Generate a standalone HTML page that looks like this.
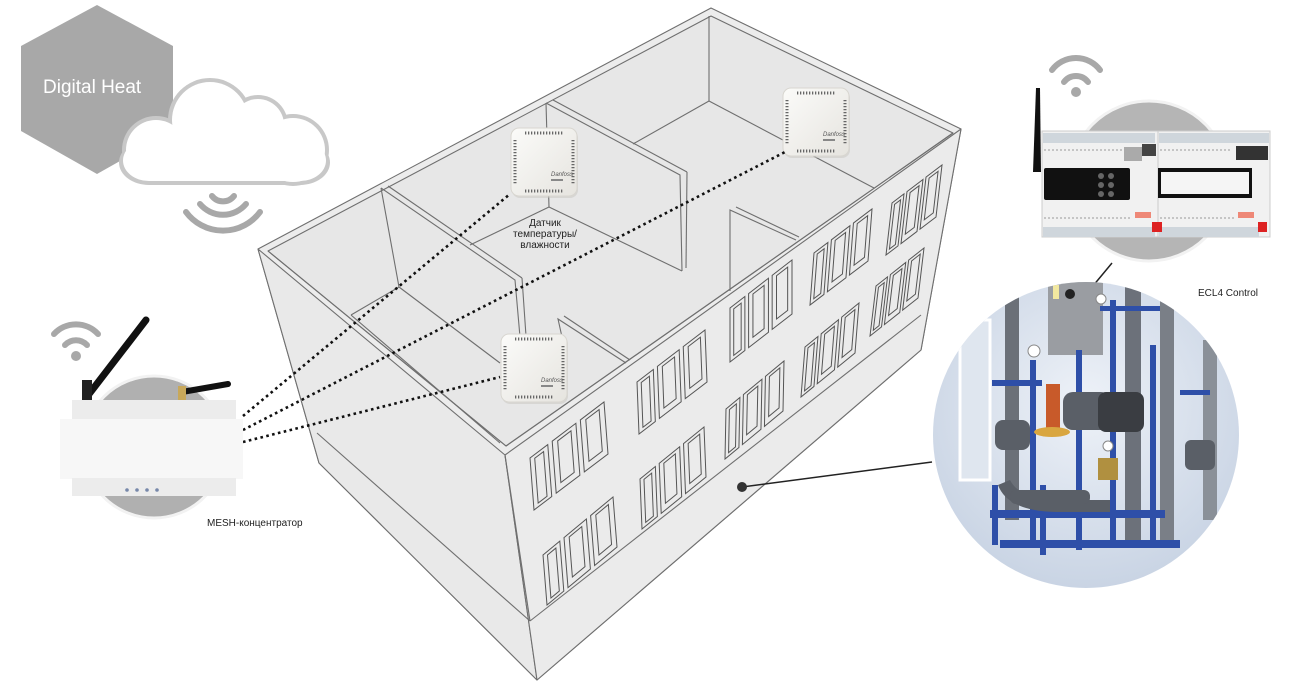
<!DOCTYPE html>
<html><head><meta charset="utf-8"><style>
html,body{margin:0;padding:0;background:#fff;width:1299px;height:686px;overflow:hidden}
svg{display:block}
text{font-family:"Liberation Sans",sans-serif}
</style></head><body>
<svg width="1299" height="686" viewBox="0 0 1299 686" xmlns="http://www.w3.org/2000/svg">
<defs>
<radialGradient id="pumpbg" cx="0.5" cy="0.4" r="0.6">
<stop offset="0" stop-color="#eef2f8"/><stop offset="1" stop-color="#c9d4e4"/></radialGradient>
<linearGradient id="sens" x1="0" y1="0" x2="1" y2="1"><stop offset="0" stop-color="#fbfbf9"/><stop offset="1" stop-color="#e6e4df"/></linearGradient>
<g id="win" fill="none" stroke="#555" stroke-width="1" vector-effect="non-scaling-stroke">
<rect x="0" y="0" width="0.24" height="1" vector-effect="non-scaling-stroke"/>
<rect x="0.06" y="0.07" width="0.12" height="0.86" vector-effect="non-scaling-stroke"/>
<rect x="0.3" y="0" width="0.32" height="1" vector-effect="non-scaling-stroke"/>
<rect x="0.37" y="0.07" width="0.18" height="0.8" vector-effect="non-scaling-stroke"/>
<rect x="0.68" y="0" width="0.32" height="1" vector-effect="non-scaling-stroke"/>
<rect x="0.75" y="0.07" width="0.18" height="0.8" vector-effect="non-scaling-stroke"/>
</g>
<g id="sensor">
<rect x="1" y="2" width="66" height="68" rx="8" fill="#c8c6c0" opacity="0.5"/>
<rect x="0" y="0" width="66" height="68" rx="8" fill="url(#sens)" stroke="#d8d6d0"/>
<line x1="14" y1="5" x2="52" y2="5" stroke="#666" stroke-width="3" stroke-dasharray="1.3 1.7"/>
<line x1="14" y1="63" x2="52" y2="63" stroke="#666" stroke-width="3" stroke-dasharray="1.3 1.7"/>
<line x1="4" y1="12" x2="4" y2="56" stroke="#666" stroke-width="3" stroke-dasharray="1.3 1.7"/>
<line x1="62" y1="12" x2="62" y2="56" stroke="#666" stroke-width="3" stroke-dasharray="1.3 1.7"/>
<text x="40" y="48" font-size="6" fill="#555" font-style="italic">Danfoss</text>
<rect x="40" y="51" width="12" height="2" fill="#888"/>
</g>
</defs>

<!-- Hexagon -->
<polygon points="97,5 173,46 173,131 97,174 21,131 21,46" fill="#a8a8a8"/>
<text x="43" y="93" font-size="19" fill="#fff">Digital Heat</text>

<!-- Cloud -->
<g fill="#c8c8c8">
<circle cx="156" cy="150" r="34"/><circle cx="210" cy="120" r="42"/><circle cx="258" cy="125" r="30"/><circle cx="293" cy="150" r="36"/>
<rect x="119" y="140" width="211" height="45" rx="30"/>
</g>
<g fill="#fff">
<circle cx="156" cy="150" r="30"/><circle cx="210" cy="120" r="38"/><circle cx="258" cy="125" r="26"/><circle cx="293" cy="150" r="32"/>
<rect x="123" y="140" width="203" height="41" rx="26"/>
</g>
<!-- cloud wifi (down) -->
<g fill="none" stroke="#a8a8a8" stroke-width="6" stroke-linecap="round">
<path d="M212,196 A14,14 0 0 0 234,196"/>
<path d="M200,204 A30,30 0 0 0 246,204"/>
<path d="M186,212 A46,46 0 0 0 260,212"/>
</g>

<!-- Building -->
<g stroke="#6f6f6f" stroke-width="1.1" stroke-linejoin="round">
<polygon points="258,249 711,8 961,129 921,350 537,680 319,463" fill="#ececec"/>
<polygon points="268,251 711,16 953,133 506,446" fill="#e7e7e7"/>
<polygon points="258,249 505,455 537,680 319,463" fill="#e9e9e9"/>
<polygon points="505,455 961,129 921,350 537,680" fill="#ebebeb"/>
</g>
<g stroke="#6f6f6f" stroke-width="1.1" fill="none">
<line x1="268" y1="251" x2="506" y2="446"/>
<line x1="506" y1="446" x2="953" y2="133"/>
<line x1="317" y1="433" x2="530" y2="621"/>
<line x1="530" y1="621" x2="921" y2="315"/>
<line x1="505" y1="455" x2="530" y2="621"/>
<line x1="351" y1="315" x2="500" y2="443"/>
<line x1="351" y1="315" x2="399" y2="287"/>
<line x1="381" y1="188" x2="399" y2="287"/>
<polyline points="381,188 515,280 520,337"/>
<line x1="388" y1="186" x2="522" y2="278"/>
<line x1="522" y1="278" x2="526" y2="336"/>
<line x1="399" y1="287" x2="500" y2="363"/>
<line x1="470" y1="245" x2="549" y2="207"/>
<line x1="546" y1="103" x2="549" y2="207"/>
<polyline points="546,103 680,175 682,271"/>
<line x1="553" y1="100" x2="687" y2="172"/>
<line x1="687" y1="172" x2="686" y2="268"/>
<line x1="549" y1="207" x2="682" y2="271"/>
<line x1="709" y1="16" x2="709" y2="101"/>
<line x1="633" y1="144" x2="709" y2="101"/>
<line x1="709" y1="101" x2="874" y2="188"/>
<polyline points="730,291 730,210 796,240"/>
<line x1="736" y1="207" x2="799" y2="237"/>
<polyline points="562,337 558,319 626,363"/>
<line x1="564" y1="316" x2="630" y2="360"/>
</g>
<!-- windows -->
<use href="#win" transform="matrix(74,-56,4,52,530,458)"/>
<use href="#win" transform="matrix(68,-52,2,52,637,382)"/>
<use href="#win" transform="matrix(62,-48,0,54,730,308)"/>
<use href="#win" transform="matrix(58,-44,-4,52,814,253)"/>
<use href="#win" transform="matrix(50,-38,-6,52,892,203)"/>
<use href="#win" transform="matrix(70,-58,4,50,543,555)"/>
<use href="#win" transform="matrix(64,-52,2,50,640,479)"/>
<use href="#win" transform="matrix(58,-48,-1,50,726,409)"/>
<use href="#win" transform="matrix(54,-44,-4,50,805,347)"/>
<use href="#win" transform="matrix(48,-38,-6,50,876,286)"/>

<!-- Sensors -->
<use href="#sensor" transform="translate(511,128)"/>
<use href="#sensor" transform="translate(783,88)"/>
<use href="#sensor" transform="translate(501,334)"/>
<text font-size="10" fill="#222" text-anchor="middle"><tspan x="545" y="226">Датчик</tspan><tspan x="545" y="237">температуры/</tspan><tspan x="545" y="248">влажности</tspan></text>

<!-- dotted links -->
<g stroke="#111" stroke-width="2.6" stroke-dasharray="2.6 3.4" fill="none">
<line x1="243" y1="416" x2="510" y2="194"/>
<line x1="243" y1="430" x2="785" y2="152"/>
<line x1="243" y1="442" x2="500" y2="377"/>
</g>

<!-- Hub -->
<g fill="none" stroke="#a8a8a8" stroke-width="6" stroke-linecap="round">
<path d="M65,345 A15,15 0 0 1 87,345"/>
<path d="M54,334 A30,30 0 0 1 98,334"/>
</g>
<circle cx="76" cy="356" r="5" fill="#a8a8a8"/>
<circle cx="154" cy="447" r="71" fill="#b0b0b0" stroke="#f2f2f2" stroke-width="3"/>
<line x1="86" y1="398" x2="146" y2="320" stroke="#111" stroke-width="7" stroke-linecap="round"/>
<rect x="82" y="380" width="10" height="22" fill="#222"/>
<line x1="182" y1="392" x2="228" y2="384" stroke="#111" stroke-width="6" stroke-linecap="round"/>
<rect x="178" y="386" width="8" height="14" fill="#c8a85a"/>
<rect x="72" y="400" width="164" height="20" fill="#ececec"/>
<rect x="60" y="419" width="183" height="60" fill="#f7f7f7"/>
<rect x="72" y="478" width="164" height="18" fill="#ececec"/>
<g fill="#7788aa"><circle cx="127" cy="490" r="1.8"/><circle cx="137" cy="490" r="1.8"/><circle cx="147" cy="490" r="1.8"/><circle cx="157" cy="490" r="1.8"/></g>
<text x="207" y="526" font-size="10" fill="#222">MESH-концентратор</text>

<!-- ECL -->
<g fill="none" stroke="#a8a8a8" stroke-width="6" stroke-linecap="round">
<path d="M1064,82 A15,15 0 0 1 1088,82"/>
<path d="M1052,70 A30,30 0 0 1 1100,70"/>
</g>
<circle cx="1076" cy="92" r="5" fill="#a8a8a8"/>
<circle cx="1149" cy="181" r="80" fill="#b5b5b5" stroke="#f2f2f2" stroke-width="3"/>
<polygon points="1033,172 1036,88 1040,88 1041,172" fill="#111"/>
<rect x="1042" y="131" width="116" height="106" fill="#f1f1f1" stroke="#ccc"/>
<rect x="1158" y="131" width="112" height="106" fill="#f1f1f1" stroke="#ccc"/>
<rect x="1043" y="133" width="112" height="10" fill="#cfd6dc"/>
<rect x="1159" y="133" width="110" height="10" fill="#cfd6dc"/>
<rect x="1043" y="227" width="112" height="10" fill="#cfd6dc"/>
<rect x="1159" y="227" width="100" height="10" fill="#cfd6dc"/>
<g stroke="#999" stroke-width="1" stroke-dasharray="2 2"><line x1="1044" y1="150" x2="1155" y2="150"/><line x1="1160" y1="150" x2="1232" y2="150"/><line x1="1044" y1="218" x2="1130" y2="218"/><line x1="1160" y1="218" x2="1234" y2="218"/></g>
<rect x="1044" y="168" width="86" height="32" rx="2" fill="#111"/>
<g fill="#666"><circle cx="1101" cy="176" r="3"/><circle cx="1111" cy="176" r="3"/><circle cx="1101" cy="185" r="3"/><circle cx="1111" cy="185" r="3"/><circle cx="1101" cy="194" r="3"/><circle cx="1111" cy="194" r="3"/></g>
<rect x="1158" y="168" width="94" height="30" fill="#111"/>
<rect x="1161" y="172" width="88" height="22" fill="#f5f5f5"/>
<rect x="1124" y="147" width="18" height="14" fill="#aaa"/>
<rect x="1142" y="144" width="14" height="12" fill="#444"/>
<rect x="1236" y="146" width="32" height="14" fill="#333"/>
<rect x="1152" y="222" width="10" height="10" fill="#d22"/>
<rect x="1258" y="222" width="9" height="10" fill="#d22"/>
<rect x="1135" y="212" width="16" height="6" fill="#e87"/>
<rect x="1238" y="212" width="16" height="6" fill="#e87"/>
<line x1="1112" y1="263" x2="1068" y2="316" stroke="#222" stroke-width="1.5"/>
<text x="1198" y="296" font-size="10" fill="#222">ECL4 Control</text>

<!-- Pump photo -->
<circle cx="1086" cy="435" r="153" fill="url(#pumpbg)"/>
<clipPath id="pc"><circle cx="1086" cy="435" r="153"/></clipPath>
<g clip-path="url(#pc)">
<rect x="960" y="320" width="30" height="160" fill="#dfe6ef" stroke="#fff" stroke-width="3"/>
<rect x="1005" y="280" width="14" height="240" fill="#6b7078"/>
<rect x="1125" y="280" width="16" height="260" fill="#6c717a"/>
<rect x="1160" y="300" width="14" height="240" fill="#7a7f87"/>
<rect x="1203" y="340" width="14" height="180" fill="#8a9098"/>
<rect x="1048" y="280" width="55" height="75" fill="#9a9da2"/>
<rect x="1053" y="285" width="6" height="14" fill="#f2e8a0"/>
<circle cx="1070" cy="294" r="5" fill="#222"/>
<g fill="#2e4fa8">
<rect x="1076" y="350" width="6" height="200"/><rect x="1110" y="300" width="6" height="240"/><rect x="1150" y="345" width="6" height="200"/>
<rect x="1030" y="360" width="6" height="180"/><rect x="992" y="380" width="50" height="6"/>
<rect x="990" y="510" width="175" height="8"/><rect x="1000" y="540" width="180" height="8"/>
<rect x="992" y="485" width="6" height="60"/><rect x="1040" y="485" width="6" height="70"/>
<rect x="1180" y="390" width="30" height="5"/><rect x="1100" y="306" width="60" height="5"/>
</g>
<g fill="#5a5f67">
<rect x="1063" y="392" width="48" height="38" rx="10"/>
<rect x="1098" y="392" width="46" height="40" rx="8" fill="#3a3d42"/>
<rect x="995" y="420" width="35" height="30" rx="8"/>
<path d="M1010,480 Q1020,500 1060,500 L1110,500 L1110,512 L1060,512 Q1008,512 998,485 Z"/>
<rect x="1185" y="440" width="30" height="30" rx="6"/>
<rect x="1010" y="490" width="80" height="14" rx="6"/>
</g>
<rect x="1046" y="384" width="14" height="44" fill="#c85a2a"/>
<ellipse cx="1052" cy="432" rx="18" ry="5" fill="#d9a640"/>
<rect x="1098" y="458" width="20" height="22" fill="#b09040"/>
<g fill="#fff" stroke="#888"><circle cx="1034" cy="351" r="6"/><circle cx="1108" cy="446" r="5"/><circle cx="1101" cy="299" r="5"/></g>
</g>

<!-- leader to building -->
<line x1="742" y1="487" x2="932" y2="462" stroke="#222" stroke-width="1.5"/>
<circle cx="742" cy="487" r="5" fill="#333"/>
</svg>
</body></html>
